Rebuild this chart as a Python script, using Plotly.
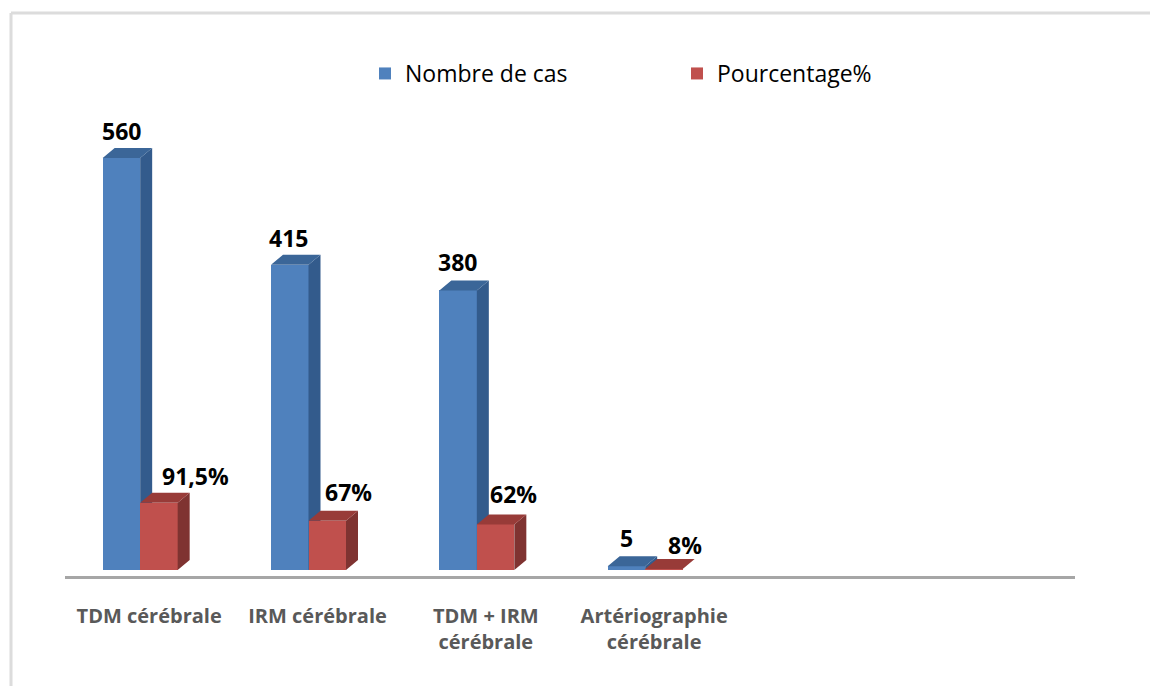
import plotly.graph_objects as go

# Data
categories = ["TDM cérébrale", "IRM cérébrale", "TDM + IRM<br>cérébrale", "Artériographie<br>cérébrale"]
tick_slots = [0, 1, 2, 3]
nombre_de_cas = [560, 415, 380, 5]
pourcentage_drawn = [91.5, 67, 62, 1.2]   # drawn height of the bars as seen in the picture
labels_cas = ["560", "415", "380", "5"]
labels_pct = ["91,5%", "67%", "62%", "8%"]

# Geometry / style
W, H = 1150, 686
L, R, T, B = 65, 75, 60, 110
PX_PER_CAT = (W - L - R) / 6
Y_MIN, Y_MAX = -8.15, 693.2
PX_PER_UNIT = (H - T - B) / (Y_MAX - Y_MIN)
BAR_W = 37.5 / PX_PER_CAT
OFF_BLUE = -46.5 / PX_PER_CAT
OFF_RED = OFF_BLUE + BAR_W
DX = 12 / PX_PER_CAT
DY = 10 / PX_PER_UNIT


def faces(values, offset):
    sx, sy, tx, ty = [], [], [], []
    for k, v in zip(tick_slots, values):
        x0 = k + offset
        x1 = x0 + BAR_W
        sx += [x1, x1 + DX, x1 + DX, x1, x1, None]
        sy += [0, DY, v + DY, v, 0, None]
        tx += [x0, x0 + DX, x1 + DX, x1, x0, None]
        ty += [v, v + DY, v + DY, v, v, None]
    return sx, sy, tx, ty


def poly(x, y, color, xa, ya):
    return go.Scatter(x=x, y=y, mode="lines", fill="toself", fillcolor=color,
                      line=dict(width=0, color=color), hoverinfo="skip",
                      showlegend=False, xaxis=xa, yaxis=ya)


fig = go.Figure()

fig.add_trace(go.Bar(name="Nombre de cas", x=tick_slots, y=nombre_de_cas, width=BAR_W, offset=OFF_BLUE,
                     marker=dict(color="#4f81bd", line=dict(width=0)), xaxis="x", yaxis="y"))
sx, sy, tx, ty = faces(nombre_de_cas, OFF_BLUE)
fig.add_trace(poly(sx, sy, "#335b8c", "x", "y"))
fig.add_trace(poly(tx, ty, "#3b6698", "x", "y"))

fig.add_trace(go.Bar(name="Pourcentage%", x=tick_slots, y=pourcentage_drawn, width=BAR_W, offset=OFF_RED,
                     marker=dict(color="#c0504d", line=dict(width=0)), xaxis="x2", yaxis="y2"))
sx, sy, tx, ty = faces(pourcentage_drawn, OFF_RED)
fig.add_trace(poly(sx, sy, "#7f3331", "x2", "y2"))
fig.add_trace(poly(tx, ty, "#983b38", "x2", "y2"))

LABEL_FONT = dict(family="Open Sans", size=23, color="#000000", weight="bold")
shift_cas = [(0, 27), (-1, 27), (-1, 28), (0, 28)]
shift_pct = [(37, 27), (21, 29), (18, 30), (21, 24)]
anns = []
for k, v, txt, (sxx, syy) in zip(tick_slots, nombre_de_cas, labels_cas, shift_cas):
    anns.append(dict(x=k + OFF_BLUE + BAR_W / 2, y=v, text=txt, showarrow=False, xshift=sxx, yshift=syy,
                     font=LABEL_FONT, xanchor="center", yanchor="middle"))
for k, v, txt, (sxx, syy) in zip(tick_slots, pourcentage_drawn, labels_pct, shift_pct):
    anns.append(dict(x=k + OFF_RED + BAR_W / 2, y=v, text=txt, showarrow=False, xshift=sxx, yshift=syy,
                     font=LABEL_FONT, xanchor="center", yanchor="middle"))

PAPER_W = W - L - R
PAPER_H = H - T - B
frame_x = (11 - L) / PAPER_W
frame_y = 1 + (T - 13) / PAPER_H
shapes = [
    dict(type="line", xref="paper", yref="paper", x0=frame_x, x1=(W - L) / PAPER_W, y0=frame_y, y1=frame_y,
         line=dict(color="#dcdcdc", width=3), layer="below"),
    dict(type="line", xref="paper", yref="paper", x0=frame_x, x1=frame_x, y0=frame_y, y1=-B / PAPER_H,
         line=dict(color="#dcdcdc", width=3), layer="below"),
]

fig.update_layout(
    width=W, height=H, autosize=False,
    margin=dict(l=L, r=R, t=T, b=B, pad=0),
    paper_bgcolor="#ffffff", plot_bgcolor="rgba(0,0,0,0)",
    font=dict(family="Open Sans", color="#000000"),
    showlegend=True,
    legend=dict(orientation="h", x=(365 - L) / PAPER_W, xanchor="left", y=1 + (T - 52) / PAPER_H, yanchor="top",
                font=dict(family="Open Sans", size=23, color="#000000"),
                entrywidth=267, entrywidthmode="pixels", traceorder="normal", bgcolor="rgba(0,0,0,0)"),
    bargap=0,
    xaxis=dict(range=[-0.5, 5.5], tickmode="array", tickvals=tick_slots, ticktext=categories,
               showgrid=False, zeroline=False, showline=True, linecolor="#a6a6a6", linewidth=3,
               ticks="", ticklabelstandoff=20, tickangle=0,
               tickfont=dict(family="Open Sans", size=20, color="#595959", weight="bold")),
    yaxis=dict(range=[Y_MIN, Y_MAX], visible=False),
    xaxis2=dict(range=[-0.5, 5.5], overlaying="x", visible=False),
    yaxis2=dict(range=[Y_MIN, Y_MAX], overlaying="y", visible=False),
    annotations=anns,
    shapes=shapes,
)

fig.write_html("out.html", post_script="document.body.style.margin='0';", config=dict(displayModeBar=False))
